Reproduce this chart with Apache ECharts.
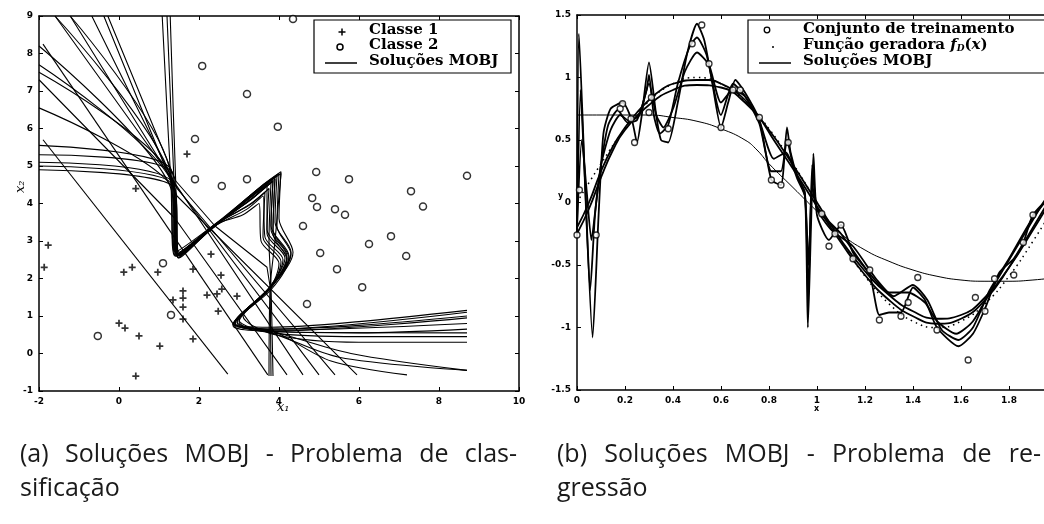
<!DOCTYPE html>
<html>
<head>
<meta charset="utf-8">
<title>Soluções MOBJ</title>
<script src="https://cdn.jsdelivr.net/npm/echarts@6/dist/echarts.min.js"></script>
<style>
  body { margin: 0; padding: 0; background: #fff; }
</style>
</head>
<body>
<div id="main" style="width:1044px;height:524px"></div>
<script>
// (a) classification: data points
const classe1 = [[-1.77,2.89],[-1.87,2.3],[0.12,2.17],[0.33,2.3],[0.97,2.17],[0.0,0.81],[0.15,0.68],
  [0.5,0.47],[1.02,0.2],[0.42,-0.6],[1.35,1.43],[1.6,1.67],[1.6,1.48],[1.6,1.24],[1.6,0.92],[1.85,0.39],
  [1.85,2.25],[2.2,1.56],[2.45,1.59],[2.57,1.72],[2.55,2.09],[2.3,2.65],[2.95,1.53],[2.48,1.13],[1.7,5.32],[0.42,4.4]];
const classe2 = [[2.08,7.67],[3.2,6.92],[1.9,5.72],[1.9,4.65],[2.57,4.47],[3.2,4.65],[4.35,8.92],[3.97,6.05],
  [4.93,4.84],[5.75,4.65],[7.3,4.33],[8.7,4.74],[4.83,4.15],[4.95,3.91],[5.4,3.85],[5.65,3.7],[7.6,3.92],
  [4.6,3.4],[6.8,3.13],[6.25,2.92],[7.18,2.6],[5.03,2.68],[5.45,2.25],[6.08,1.77],[4.7,1.32],
  [-0.53,0.47],[1.3,1.03],[1.1,2.41]];

// (a) MOBJ solutions: decision boundaries
const linearSolutions = [
  [[-1.9,5.7],[2.72,-0.55]],
  [[-1.9,8.25],[3.72,-0.57]],
  [[-2,7.3],[1.4,3.6],[4.2,-0.57]],
  [[-1.6,9],[1.3,4.7],[4.6,-0.57]],
  [[-1.22,9],[1.4,4.5],[5.0,-0.57]],
  [[-0.68,9],[1.45,4.4],[5.4,-0.57]],
  [[-0.38,9],[1.45,4.2],[5.95,-0.57]],
  [[-0.28,9],[1.42,4.6],[2.4,3.4],[3.7,2.3],[3.78,1.77],[3.8,-0.6]]
];
const nonlinearSolutions = [
  [[-2,5.55],[1.3,4.9],[1.4,2.7],[2.4,3.45],[3.5,4.4],[3.95,4.75],[3.9,3.5],[4.3,2.7],[3.8,1.75],[2.85,0.78],[3.8,0.7],[6,0.85],[8.7,1.15]],
  [[-2,5.3],[1.35,4.8],[1.45,2.6],[2.4,3.4],[3.4,4.2],[3.85,4.6],[3.8,3.4],[4.25,2.6],[3.78,1.78],[2.9,0.8],[3.85,0.65],[6,0.75],[8.7,1.0]],
  [[-2,5.1],[1.3,4.6],[1.5,2.55],[2.4,3.42],[3.3,4.0],[3.75,4.4],[3.7,3.3],[4.2,2.55],[3.75,1.7],[2.95,0.85],[3.8,0.6],[6,0.55],[8.7,0.65]],
  [[-2,5.0],[1.35,4.5],[1.45,2.65],[2.4,3.4],[3.2,3.85],[3.6,4.2],[3.65,3.1],[4.1,2.5],[3.8,1.8],[3.0,0.9],[3.85,0.55],[6,0.45],[8.7,0.45]],
  [[-2,4.9],[1.4,4.4],[1.5,2.6],[2.4,3.43],[3.1,3.7],[3.5,4.0],[3.55,3.0],[4.0,2.4],[3.78,1.75],[3.1,1.0],[3.9,0.5],[6,0.3],[8.7,0.3]],
  [[-2,8.2],[1.3,4.4],[1.45,2.6],[2.4,3.4],[3.6,4.5],[4.05,4.85],[4.0,3.6],[4.35,2.7],[3.8,1.77],[2.85,0.75],[3.8,0.55],[5.5,-0.1],[8.7,-0.45]],
  [[-2,7.7],[1.35,4.5],[1.5,2.6],[2.4,3.42],[3.55,4.45],[4.0,4.8],[3.95,3.4],[4.3,2.65],[3.8,1.8],[2.9,0.8],[3.85,0.6],[5.3,-0.2],[7.2,-0.57]],
  [[-2,6.55],[1.4,4.3],[1.5,2.7],[2.4,3.4],[3.45,4.3],[3.9,4.7],[3.85,3.3],[4.25,2.55],[3.8,1.7],[2.85,0.78],[3.8,0.65],[8.7,1.1]],
  [[-1.22,9],[1.25,5.0],[1.4,2.6],[2.4,3.45],[3.3,4.1],[3.7,4.5],[3.7,3.2],[4.15,2.55],[3.77,1.78],[2.95,0.82],[3.82,0.62],[8.7,0.8]],
  [[1.08,9],[1.3,4.5],[1.42,2.6],[2.4,3.4],[3.65,4.5],[4.05,4.8],[3.9,3.0],[3.78,1.77],[3.75,-0.6]],
  [[1.2,9],[1.38,4.5],[1.48,2.55],[2.4,3.4],[3.4,4.25],[3.8,4.55],[3.75,3.0],[3.8,1.8],[3.85,-0.6]],
  [[1.28,9],[1.42,4.5],[1.5,2.6],[2.4,3.42],[3.5,4.35],[3.9,4.65],[3.85,3.2],[4.2,2.5],[3.78,1.75],[3.0,0.85],[3.8,0.6],[8.7,0.95]],
  [[-2,7.5],[1.35,4.6],[1.45,2.6],[2.4,3.44],[3.25,3.95],[3.65,4.3],[3.6,3.1],[4.05,2.45],[3.8,1.78],[2.9,0.82],[3.85,0.58],[8.7,0.55]],
  [[-1.6,9],[1.3,4.7],[1.45,2.65],[2.4,3.4],[3.4,4.2],[3.85,4.6],[3.8,3.3],[4.2,2.6],[3.78,1.76],[2.88,0.8],[3.8,0.6],[5.8,0.0],[8.7,-0.45]]
];

// (b) regression
const trainSet = [[0.19,0.79],[0.18,0.75],[0.225,0.67],[0.24,0.48],[0.3,0.72],[0.31,0.84],[0.38,0.59],
  [0.48,1.27],[0.52,1.42],[0.55,1.11],[0.6,0.6],[0.65,0.9],[0.68,0.9],[0.76,0.68],[0.81,0.18],[0.85,0.14],
  [0.88,0.48],[0.01,0.1],[0.0,-0.26],[0.08,-0.26],[1.02,-0.09],[1.1,-0.18],[1.05,-0.35],[1.075,-0.25],
  [1.22,-0.54],[1.26,-0.94],[1.42,-0.6],[1.35,-0.91],[1.38,-0.8],[1.5,-1.02],[1.63,-1.26],[1.66,-0.76],
  [1.7,-0.87],[1.74,-0.61],[1.82,-0.58],[1.86,-0.32],[1.9,-0.1],[1.15,-0.45]];
const generator = [[0,0],[0.1,0.31],[0.2,0.59],[0.3,0.81],[0.4,0.95],[0.5,1.0],[0.6,0.95],[0.7,0.81],
  [0.8,0.59],[0.9,0.31],[1.0,0],[1.1,-0.31],[1.2,-0.59],[1.3,-0.81],[1.4,-0.95],[1.5,-1.0],[1.6,-0.95],
  [1.7,-0.81],[1.8,-0.59],[1.9,-0.31],[2.0,0]];
const regUnder = [[0,0.7],[0.1,0.7],[0.2,0.7],[0.3,0.7],[0.4,0.68],[0.5,0.65],[0.6,0.59],[0.7,0.5],
  [0.75,0.42],[0.8,0.31],[0.9,0.12],[1.0,-0.07],[1.1,-0.25],[1.2,-0.38],[1.3,-0.47],[1.4,-0.54],
  [1.5,-0.59],[1.6,-0.62],[1.7,-0.63],[1.8,-0.63],[1.9,-0.62],[2.0,-0.6]];
const regFit1 = [[0,-0.2],[0.05,0.0],[0.1,0.25],[0.15,0.45],[0.2,0.6],[0.25,0.72],[0.3,0.82],[0.35,0.9],
  [0.4,0.95],[0.5,0.98],[0.55,0.98],[0.6,0.95],[0.65,0.9],[0.7,0.82],[0.76,0.68],[0.82,0.5],[0.9,0.27],
  [0.95,0.12],[1.0,-0.03],[1.1,-0.32],[1.2,-0.58],[1.3,-0.78],[1.4,-0.91],[1.5,-0.97],[1.6,-0.93],
  [1.7,-0.78],[1.8,-0.52],[1.9,-0.2],[2.0,0.12]];
const regFit2 = [[0,-0.25],[0.05,-0.05],[0.1,0.2],[0.15,0.42],[0.2,0.58],[0.3,0.78],[0.4,0.9],[0.5,0.94],
  [0.6,0.92],[0.7,0.8],[0.8,0.58],[0.9,0.3],[1.0,0.0],[1.1,-0.3],[1.2,-0.55],[1.3,-0.74],[1.4,-0.87],
  [1.5,-0.93],[1.6,-0.9],[1.7,-0.76],[1.8,-0.52],[1.9,-0.22],[2.0,0.1]];
const regMid1 = [[0,-0.2],[0.02,0.5],[0.04,0.1],[0.06,-0.3],[0.08,0.0],[0.1,0.3],[0.14,0.58],[0.18,0.7],
  [0.22,0.65],[0.26,0.7],[0.3,0.95],[0.33,0.7],[0.36,0.6],[0.4,0.75],[0.45,1.05],[0.5,1.2],[0.55,1.1],
  [0.6,0.8],[0.65,0.9],[0.7,0.85],[0.76,0.65],[0.82,0.35],[0.87,0.4],[0.92,0.18],[0.95,0.05],[0.965,-0.5],
  [0.98,0.15],[1.0,-0.05],[1.1,-0.25],[1.2,-0.52],[1.3,-0.72],[1.38,-0.72],[1.45,-0.8],[1.5,-0.95],
  [1.58,-1.05],[1.65,-0.95],[1.75,-0.62],[1.85,-0.3],[1.95,0.02],[2.0,0.15]];
const regMid2 = [[0,-0.22],[0.015,0.9],[0.03,0.3],[0.055,-0.7],[0.075,-0.1],[0.1,0.3],[0.13,0.62],[0.17,0.74],
  [0.21,0.64],[0.25,0.66],[0.29,0.9],[0.3,1.02],[0.32,0.7],[0.345,0.55],[0.38,0.62],[0.42,0.95],[0.47,1.25],
  [0.5,1.32],[0.54,1.18],[0.6,0.7],[0.65,0.95],[0.7,0.85],[0.76,0.63],[0.81,0.25],[0.85,0.25],[0.875,0.5],
  [0.9,0.3],[0.95,0.05],[0.963,-0.8],[0.98,0.3],[1.0,-0.05],[1.06,-0.22],[1.15,-0.35],[1.25,-0.62],
  [1.32,-0.75],[1.4,-0.66],[1.46,-0.78],[1.52,-1.02],[1.59,-1.1],[1.65,-1.0],[1.72,-0.7],[1.8,-0.45],
  [1.9,-0.12],[2.0,0.12]];
const regOver = [[0,-0.25],[0.008,1.35],[0.035,0.1],[0.065,-1.08],[0.09,-0.1],[0.11,0.55],[0.14,0.75],
  [0.19,0.8],[0.23,0.65],[0.25,0.48],[0.27,0.7],[0.3,1.12],[0.33,0.7],[0.35,0.5],[0.38,0.48],[0.42,0.8],
  [0.46,1.2],[0.5,1.43],[0.53,1.3],[0.56,1.0],[0.6,0.6],[0.63,0.8],[0.66,0.98],[0.7,0.88],[0.76,0.66],
  [0.81,0.18],[0.85,0.14],[0.875,0.6],[0.89,0.4],[0.92,0.2],[0.95,0.08],[0.962,-1.0],[0.975,-0.2],
  [0.985,0.39],[1.0,-0.1],[1.05,-0.3],[1.1,-0.18],[1.15,-0.4],[1.22,-0.58],[1.26,-0.9],[1.3,-0.88],
  [1.35,-0.88],[1.4,-0.68],[1.45,-0.78],[1.5,-1.0],[1.59,-1.15],[1.65,-1.05],[1.7,-0.85],[1.76,-0.56],
  [1.82,-0.45],[1.86,-0.32],[1.9,-0.1],[2.0,0.1]];
const regSolutions = [regUnder, regFit1, regFit2, regMid1, regMid2, regOver];

const captions = [
  ['(a) Soluções MOBJ - Problema de clas-', 'sificação'],
  ['(b) Soluções MOBJ - Problema de re-', 'gressão']
];

const plus = 'path://M3,0h2v3h3v2h-3v3h-2v-3h-3v-2h3z';
const serif = 'DejaVu Serif';
const tickFont = { color: '#000', fontSize: 9, fontFamily: 'DejaVu Sans', fontWeight: 'bold' };

function valueAxis(gi, pos, min, max, interval, labels, line, fmt) {
  return {
    type: 'value', gridIndex: gi, position: pos, min, max, interval,
    axisLine: { show: line, onZero: false, lineStyle: { color: '#000', width: 1.5 } },
    axisTick: { show: line, inside: true, length: 4, lineStyle: { color: '#000' } },
    axisLabel: { show: labels, margin: 6, formatter: fmt, showMaxLabel: max !== 1.946, ...tickFont },
    splitLine: { show: false }
  };
}
const fmtDec = v => (v === 0 ? '0' : String(Math.round(v * 10) / 10));

const chart = echarts.init(document.getElementById('main'));

const series = [];
linearSolutions.concat(nonlinearSolutions).forEach((path, i) => {
  series.push({
    type: 'line', name: 'Soluções MOBJ', xAxisIndex: 0, yAxisIndex: 0, data: path,
    showSymbol: false, symbol: 'none', silent: true, smooth: i < linearSolutions.length ? 0 : 0.3,
    lineStyle: { color: '#000', width: 1.1 }, z: 2
  });
});
series.push({ type: 'scatter', name: 'Classe 1', xAxisIndex: 0, yAxisIndex: 0, data: classe1,
  symbol: plus, symbolSize: 7, itemStyle: { color: '#000' }, z: 5 });
series.push({ type: 'scatter', name: 'Classe 2', xAxisIndex: 0, yAxisIndex: 0, data: classe2,
  symbol: 'circle', symbolSize: 7, itemStyle: { color: '#fff', borderColor: '#000', borderWidth: 1.5 }, z: 5 });

regSolutions.forEach((path, i) => {
  series.push({
    type: 'line', name: 'Soluções MOBJ', xAxisIndex: 2, yAxisIndex: 2, data: path,
    showSymbol: false, symbol: 'none', silent: true, smooth: i < 3 ? 0.5 : 0.2,
    lineStyle: { color: '#000', width: i === 0 ? 1 : 1.8 }, z: 2
  });
});
series.push({ type: 'line', name: 'Função geradora', xAxisIndex: 2, yAxisIndex: 2, data: generator,
  showSymbol: false, symbol: 'none', smooth: 0.5, lineStyle: { color: '#000', width: 1.5, type: [1.5, 4] }, z: 3 });
series.push({ type: 'scatter', name: 'Conjunto de treinamento', xAxisIndex: 2, yAxisIndex: 2, data: trainSet,
  symbol: 'circle', symbolSize: 6, itemStyle: { color: '#fff', borderColor: '#000', borderWidth: 1.3 }, z: 5 });

const legendBox = (x, y, w, h) => ({ type: 'rect', x, y, z: 50,
  shape: { x: 0, y: 0, width: w, height: h }, style: { fill: '#fff', stroke: '#000', lineWidth: 1.2 } });
const legendText = (x, y, text) => ({ type: 'text', x, y, z: 51,
  style: { text, fill: '#000', font: 'bold 15px "' + serif + '"' } });
const seg = (x1, y1, x2, y2, w) => ({ type: 'line', z: 51, shape: { x1, y1, x2, y2 }, style: { stroke: '#000', lineWidth: w } });

const graphic = [
  legendBox(314, 20, 197, 53),
  seg(342, 28.5, 342, 35.5, 1.5),
  seg(338.5, 32, 345.5, 32, 1.5),
  { type: 'circle', z: 51, shape: { cx: 340, cy: 47, r: 3 }, style: { fill: '#fff', stroke: '#000', lineWidth: 1.5 } },
  seg(325, 63, 357, 63, 1.5),
  legendText(369, 23, 'Classe 1'),
  legendText(369, 38, 'Classe 2'),
  legendText(369, 54, 'Soluções MOBJ'),

  legendBox(748, 20, 310, 53),
  { type: 'circle', z: 51, shape: { cx: 767, cy: 30, r: 2.8 }, style: { fill: '#fff', stroke: '#000', lineWidth: 1.3 } },
  { type: 'circle', z: 51, shape: { cx: 773, cy: 47, r: 1 }, style: { fill: '#000' } },
  seg(759, 63, 791, 63, 1.5),
  legendText(803, 22, 'Conjunto de treinamento'),
  { type: 'text', x: 803, y: 38, z: 51, style: {
      text: 'Função geradora {i|f}{s|D}{n|(}{i|x}{n|)}', fill: '#000',
      font: 'bold 15px "' + serif + '"',
      rich: {
        i: { font: 'italic bold 15px "' + serif + '"' },
        s: { font: 'italic bold 9px "' + serif + '"', padding: [6, 0, 0, 0] },
        n: { font: 'bold 15px "' + serif + '"' }
      } } },
  legendText(803, 54, 'Soluções MOBJ'),

  // axis names
  { type: 'text', x: 277, y: 401, style: { text: 'x₁', fill: '#000', font: 'italic 13px "' + serif + '"' } },
  { type: 'text', x: 14, y: 193, rotation: Math.PI / 2, style: { text: 'x₂', fill: '#000', font: 'italic 13px "' + serif + '"' } },
  { type: 'text', x: 814, y: 405, style: { text: 'x', fill: '#000', font: 'bold 8px "DejaVu Sans"' } },
  { type: 'text', x: 558, y: 192, style: { text: 'y', fill: '#000', font: 'bold 8px "DejaVu Sans"' } }
];

// captions: first line justified to the column width, like the typeset original
const capFont = '25px "Open Sans"';
const measure = document.createElement('canvas').getContext('2d');
measure.font = capFont;
const columns = [[20, 517], [557, 1041]];
captions.forEach((c, i) => {
  const [x0, x1] = columns[i];
  const words = c[0].split(' ');
  const widths = words.map(w => measure.measureText(w).width);
  const gap = (x1 - x0 - widths.reduce((a, b) => a + b, 0)) / (words.length - 1);
  let x = x0;
  words.forEach((w, k) => {
    graphic.push({ type: 'text', x, y: 442, style: { text: w, fill: '#1a1a1a', font: capFont } });
    x += widths[k] + gap;
  });
  graphic.push({ type: 'text', x: x0, y: 476, style: { text: c[1], fill: '#1a1a1a', font: capFont } });
});

chart.setOption({
  animation: false,
  backgroundColor: '#fff',
  grid: [
    { left: 39, top: 16, width: 480, height: 375, show: false },
    { left: 577, top: 15, width: 467, height: 375, show: false }
  ],
  xAxis: [
    valueAxis(0, 'bottom', -2, 10, 2, true, true),
    valueAxis(0, 'top', -2, 10, 2, false, true),
    valueAxis(1, 'bottom', 0, 1.946, 0.2, true, true, fmtDec),
    valueAxis(1, 'top', 0, 1.946, 0.2, false, true)
  ],
  yAxis: [
    valueAxis(0, 'left', -1, 9, 1, true, true),
    valueAxis(0, 'right', -1, 9, 1, false, true),
    valueAxis(1, 'left', -1.5, 1.5, 0.5, true, true, fmtDec),
    valueAxis(1, 'right', -1.5, 1.5, 0.5, false, false)
  ],
  series,
  graphic
});
</script>
</body>
</html>
